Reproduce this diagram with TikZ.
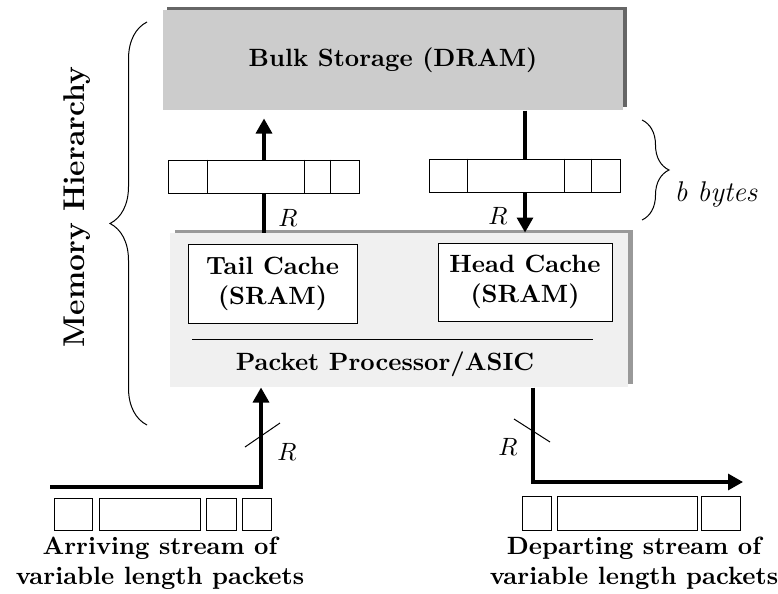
\documentclass[tikz,border=0pt]{standalone}
\usetikzlibrary{arrows.meta,decorations.pathreplacing,shadows}

\tikzset{
  membox/.style={inner sep=0pt, font=\bfseries, align=center},
  cachebox/.style={draw, fill=white, thin, inner sep=0pt, font=\bfseries, align=center},
  cell/.style={draw, thin},
  flow/.style={line width=1.3pt},
  rate/.style={thin},
  brc/.style={decorate, decoration={brace, amplitude=#1}, thin},
}

\begin{document}
\begin{tikzpicture}[x=0.4pt, y=-0.4pt, >={Triangle[length=6pt,width=6.4pt]}]
\useasboundingbox (0,0) rectangle (778,593);

% memory levels
\node[membox, fill=black!20, minimum width=184pt, minimum height=40pt,
      general shadow={fill=black!60, shadow xshift=1.6pt, shadow yshift=1.2pt}]
      (dram) at (393,60) {Bulk Storage (DRAM)};
\node[membox, fill=black!6, minimum width=183.2pt, minimum height=61.6pt,
      general shadow={fill=black!40, shadow xshift=1.8pt, shadow yshift=1.4pt}]
      (asic) at (399,310) {};
\node[cachebox, minimum width=67.6pt, minimum height=31.6pt] (tail) at (272.5,283.5) {Tail Cache\\(SRAM)};
\node[cachebox, minimum width=69.6pt, minimum height=31.2pt] (head) at (525,282) {Head Cache\\(SRAM)};
\draw[thin] (192,339) -- (593,339);
\node[membox] (proc) at (385,364) {Packet Processor/ASIC};

% b byte blocks
\node[cell, minimum width=76.4pt, minimum height=13.2pt, inner sep=0pt] (tbuf) at (264,176.5) {};
\node[cell, minimum width=76.4pt, minimum height=13.2pt, inner sep=0pt] (hbuf) at (525,175.5) {};
\foreach \d in {39,136,162}
  \draw[thin] ([xshift=\d*0.4pt]tbuf.north west) -- ([xshift=\d*0.4pt]tbuf.south west);
\foreach \d in {38,135,162}
  \draw[thin] ([xshift=\d*0.4pt]hbuf.north west) -- ([xshift=\d*0.4pt]hbuf.south west);

\draw[flow] (asic.north -| tbuf.south) -- (tbuf.south);
\draw[flow,->,shorten >=3.2pt] (tbuf.north) -- (dram.south -| tbuf.north);
\draw[flow] (dram.south -| hbuf.north) -- (hbuf.north);
\draw[flow,->] (hbuf.south) -- (asic.north -| hbuf.south);
\node (rt) at (288,218) {$R$};
\node (rh) at (498,216) {$R$};

% arriving and departing streams
\coordinate (inA) at (50,487);
\coordinate (inB) at (261,487);
\coordinate (outA) at (533,482);
\coordinate (outB) at (743,482);
\draw[flow,->] (inA) -- (inB) -- (asic.south -| inB);
\draw[flow,->] (asic.south -| outA) -- (outA) -- (outB);
\draw[rate] (245,447) -- (280,423);
\draw[rate] (514,419) -- (550,442);
\node (rin) at (287,452) {$R$};
\node (rout) at (508,447) {$R$};

\foreach \a/\b in {54/92, 99/200, 206/236, 242/271}
  \draw[cell] (\a,498) rectangle (\b,530);
\foreach \a/\b in {522/551, 557/697, 701/740}
  \draw[cell] (\a,496) rectangle (\b,530);
\node[membox] (arr) at (160,563) {Arriving stream of\\variable length packets};
\node[membox] (dep) at (634,563) {Departing stream of\\variable length packets};

% braces
\draw[brc=14.8pt] (147,425) -- (147,22);
\node[membox, font=\large\bfseries, rotate=90] (hier) at (77,207) {Memory Hierarchy};
\draw[brc=10.8pt] (642,120) -- (642,220);
\node[font=\fontsize{11.4}{14}\selectfont\itshape] (bb) at (716,195) {b bytes};
\end{tikzpicture}
\end{document}
